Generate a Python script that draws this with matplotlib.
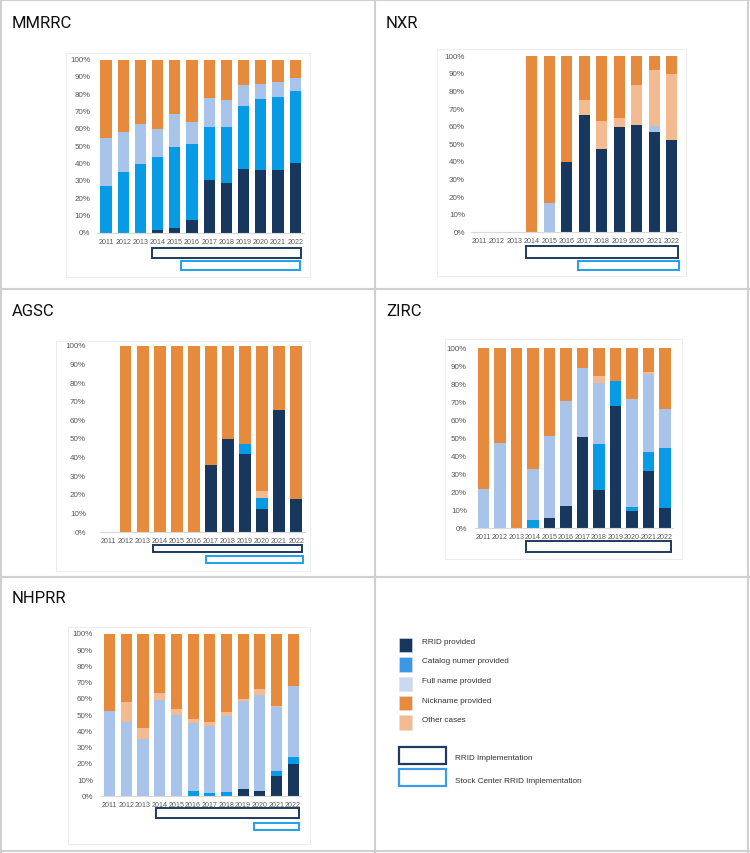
import matplotlib
matplotlib.use("Agg")
import matplotlib.pyplot as plt
from matplotlib.patches import Rectangle
from matplotlib.lines import Line2D
from matplotlib.transforms import blended_transform_factory
import numpy as np

# ---------------- data ----------------
years = ["2011", "2012", "2013", "2014", "2015", "2016",
         "2017", "2018", "2019", "2020", "2021", "2022"]
series_names = ["RRID provided", "Catalog numer provided", "Full name provided",
                "Nickname provided", "Other cases"]

mmrrc_rrid  = [0, 0, 0, 1.5, 3, 7.5, 30.5, 28.5, 37, 36.5, 36.5, 40.5]
mmrrc_cat   = [27, 35, 40, 42, 46.5, 43.5, 30.5, 32.5, 36.5, 40.5, 42, 41.5]
mmrrc_full  = [27.5, 23, 23, 16.5, 19, 13, 17, 15.5, 12, 9, 8.5, 7.5]
mmrrc_other = [0, 0, 0, 0, 0, 0, 0, 0, 0, 0, 0, 0]
mmrrc_nick  = [45.5, 42, 37, 40, 31.5, 36, 22, 23.5, 14.5, 14, 13, 10.5]

nxr_rrid  = [0, 0, 0, 0, 0, 40, 66.5, 47.5, 60, 61, 57, 52.5]
nxr_cat   = [0, 0, 0, 0, 0, 0, 0, 0, 0, 0, 0, 0]
nxr_full  = [0, 0, 0, 0, 16.5, 0, 0, 0, 0, 0, 3.5, 0]
nxr_other = [0, 0, 0, 0, 0, 0, 8.5, 15.5, 5, 22.5, 32, 37.5]
nxr_nick  = [0, 0, 0, 100, 83.5, 60, 25, 37, 35, 16.5, 7.5, 10]

agsc_rrid  = [0, 0, 0, 0, 0, 0, 36, 50, 42, 12.5, 65.5, 18]
agsc_cat   = [0, 0, 0, 0, 0, 0, 0, 0, 5.5, 6, 0, 0]
agsc_full  = [0, 0, 0, 0, 0, 0, 0, 0, 0, 0, 0, 0]
agsc_other = [0, 0, 0, 0, 0, 0, 0, 0, 0, 3.5, 0, 0]
agsc_nick  = [0, 100, 100, 100, 100, 100, 64, 50, 52.5, 78, 34.5, 82]

zirc_rrid  = [0, 0, 0, 0, 6, 12.5, 51, 21.5, 68, 9.5, 32, 11]
zirc_cat   = [0, 0, 0, 4.5, 0, 0, 0, 25.5, 14, 2.5, 10.5, 33.5]
zirc_full  = [22, 47.5, 0, 28.5, 45.5, 58.5, 38, 34, 0, 60, 43, 22]
zirc_other = [0, 0, 0, 0, 0, 0, 0, 3.5, 0, 0, 1.5, 0]
zirc_nick  = [78, 52.5, 100, 67, 48.5, 29, 11, 15.5, 18, 28, 13, 33.5]

nhprr_rrid  = [0, 0, 0, 0, 0, 0, 0, 0, 4.5, 3, 12.5, 20]
nhprr_cat   = [0, 0, 0, 0, 0, 3, 2, 2.5, 0, 0, 3, 4.5]
nhprr_full  = [52.5, 46, 35.5, 59.5, 50, 42, 41.5, 47, 54, 59.5, 39.5, 43.5]
nhprr_other = [0, 12, 6.5, 4, 3.5, 2.5, 2, 2.5, 1.5, 3.5, 0.5, 0]
nhprr_nick  = [47.5, 42, 58, 36.5, 46.5, 52.5, 54.5, 48, 40, 34, 44.5, 32]

yticks = [0, 10, 20, 30, 40, 50, 60, 70, 80, 90, 100]

# ---------------- style ----------------
C_RRID = "#17375e"
C_CAT = "#069be4"
C_FULL = "#a9c4eb"
C_NICK = "#e68b3e"
C_OTHER = "#f4bb93"
C_BOX1 = "#1f3a5c"
C_BOX2 = "#1fa0ec"
TICK_C = "#595959"
TICK_FONT = ["Liberation Sans", "DejaVu Sans"]
TITLE_FONT = ["Roboto", "DejaVu Sans"]

W, H = 750, 854
fig = plt.figure(figsize=(W / 100, H / 100), dpi=100)
fig.patch.set_facecolor("white")


def fx(x):
    return x / W


def fy(y):
    return 1 - y / H


# panel separators
for x in [1, 375, 748]:
    fig.add_artist(Line2D([fx(x), fx(x)], [fy(0), fy(854)], color="#d0d0d0", lw=1.5))
for y in [1, 290, 578, 852]:
    fig.add_artist(Line2D([fx(0), fx(750)], [fy(y), fy(y)], color="#d0d0d0", lw=1.5))

# chart area borders
for (l, t, r, b) in [(66, 54, 310, 278), (437, 50, 686, 277), (56, 342, 310, 572),
                     (445, 340, 682, 560), (68, 628, 310, 845)]:
    fig.add_artist(Rectangle((fx(l), fy(b)), fx(r - l), (b - t) / H,
                             fill=False, edgecolor="#ededed", lw=0.8))


def panel(title, title_xy, left, pitch, top, bottom, width, data, label_y,
          ylab_right, boxes):
    n = len(years)
    l = left
    r = left + pitch * n
    ax = fig.add_axes([fx(l), fy(bottom), fx(r - l), (bottom - top) / H])
    x = np.arange(n)
    base = np.zeros(n)
    colors = [C_RRID, C_CAT, C_FULL, C_OTHER, C_NICK]
    for vals, c in zip(data, colors):
        v = np.array(vals, dtype=float)
        ax.bar(x, v, width=width, bottom=base, color=c, linewidth=0)
        base = base + v
    ax.set_xlim(-0.5, n - 0.5)
    ax.set_ylim(0, 100)
    for s in ["top", "right", "left"]:
        ax.spines[s].set_visible(False)
    ax.spines["bottom"].set_color("#d9d9d9")
    ax.spines["bottom"].set_linewidth(0.8)
    ax.set_xticks(x)
    ax.set_xticklabels([])
    ax.set_yticks(yticks)
    ax.set_yticklabels([])
    ax.tick_params(length=0)
    tr_x = blended_transform_factory(ax.transData, fig.transFigure)
    tr_y = blended_transform_factory(fig.transFigure, ax.transData)
    for i, yr in enumerate(years):
        ax.text(i, fy(label_y), yr, transform=tr_x, ha="center", va="center",
                fontsize=5.1, color=TICK_C, family=TICK_FONT)
    for t in yticks:
        ax.text(fx(ylab_right), t, f"{t}%", transform=tr_y, ha="right", va="center",
                fontsize=5.8, color=TICK_C, family=TICK_FONT)
    for (x0, x1, yt, yb, col) in boxes:
        ax.add_patch(Rectangle((x0, fy(yb)), x1 - x0, (yb - yt) / H, transform=tr_x,
                               fill=False, edgecolor=col, lw=1.4, clip_on=False))
    fig.text(fx(title_xy[0]), fy(title_xy[1]), title, ha="left", va="center",
             fontsize=12, family=TITLE_FONT, color="#111111")
    return ax


panel("MMRRC", (12, 23), 97.4, 17.2, 60.7, 233.7, 0.64,
      [mmrrc_rrid, mmrrc_cat, mmrrc_full, mmrrc_other, mmrrc_nick], 242.5, 90.5,
      [(2.68, 11.32, 249.3, 259.3, C_BOX1), (4.34, 11.3, 262.3, 271.3, C_BOX2)])

panel("NXR", (386, 23), 470.5, 17.5, 57.3, 233.3, 0.63,
      [nxr_rrid, nxr_cat, nxr_full, nxr_other, nxr_nick], 241.7, 465,
      [(2.66, 11.33, 247.3, 259.3, C_BOX1), (5.63, 11.39, 262, 271, C_BOX2)])

panel("AGSC", (12, 312), 100.2, 17.04, 346.7, 533.3, 0.67,
      [agsc_rrid, agsc_cat, agsc_full, agsc_other, agsc_nick], 541.7, 86,
      [(2.62, 11.35, 545.7, 553.3, C_BOX1), (5.71, 11.4, 556.7, 564, C_BOX2)])

panel("ZIRC", (386, 312), 475.3, 16.48, 349.3, 529.3, 0.70,
      [zirc_rrid, zirc_cat, zirc_full, zirc_other, zirc_nick], 537.7, 467,
      [(2.59, 11.37, 541.7, 553, C_BOX1)])

panel("NHPRR", (12, 599), 101.3, 16.68, 635, 797.3, 0.66,
      [nhprr_rrid, nhprr_cat, nhprr_full, nhprr_other, nhprr_nick], 806, 93,
      [(2.78, 11.37, 809.3, 819, C_BOX1), (8.67, 11.33, 823.7, 831.3, C_BOX2)])

# ---------------- legend ----------------
leg_colors = [C_RRID, "#3a98e6", "#c9d9ef", C_NICK, C_OTHER]
for i, (name, c) in enumerate(zip(series_names, leg_colors)):
    top = 639 + i * 19.3
    fig.add_artist(Rectangle((fx(399), fy(top + 14.3)), fx(13.3), 14.3 / H,
                             facecolor=c, edgecolor="#e0e0e0", lw=0.4))
    fig.text(fx(422.3), fy(642.3 + i * 19.6), name, ha="left", va="center",
             fontsize=5.85, color="#333333", family=TICK_FONT)

for (yt, yb, col, name, ly) in [(748.3, 765, C_BOX1, "RRID Implementation", 758.3),
                                (770, 787.3, "#3d9be9", "Stock Center RRID Implementation", 781.7)]:
    fig.add_artist(Rectangle((fx(399.5), fy(yb)), fx(46.5), (yb - yt) / H,
                             fill=False, edgecolor=col, lw=1.6))
    fig.text(fx(455), fy(ly), name, ha="left", va="center",
             fontsize=5.85, color="#333333", family=TICK_FONT)

fig.savefig("out.png", dpi=100, facecolor="white")
